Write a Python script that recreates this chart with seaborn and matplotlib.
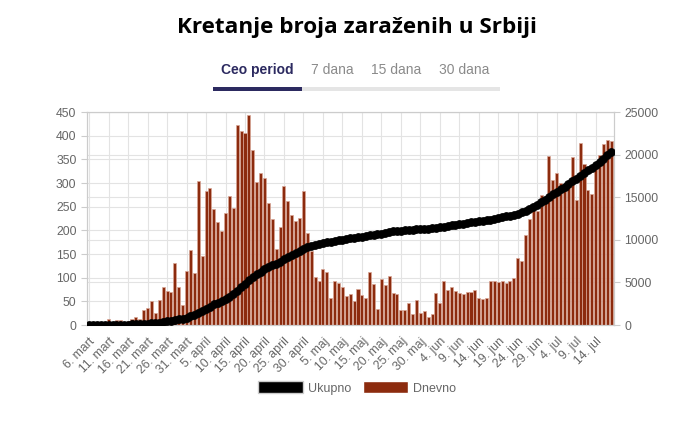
import matplotlib
matplotlib.use('Agg')
import matplotlib.pyplot as plt
from matplotlib.patches import Patch, Rectangle
import numpy as np
import pandas as pd
import seaborn as sns

# daily new cases (Dnevno), 6 March - 18 July
daily = [1, 0, 0, 0, 4, 12, 6, 10, 10, 2,
         8, 13, 16, 12, 31, 35, 50, 25, 53, 80,
         71, 70, 130, 80, 43, 114, 158, 110, 304, 146,
         283, 290, 246, 218, 199, 236, 273, 248, 422, 409,
         406, 444, 370, 303, 322, 310, 258, 223, 160, 206,
         294, 262, 232, 220, 226, 284, 194, 156, 101, 92,
         118, 113, 56, 94, 88, 80, 61, 65, 51, 77,
         63, 56, 113, 87, 33, 98, 84, 103, 67, 65,
         32, 32, 46, 24, 53, 26, 30, 17, 23, 68,
         47, 94, 73, 80, 72, 68, 65, 69, 70, 74,
         57, 55, 57, 94, 92, 91, 92, 89, 94, 100,
         141, 135, 191, 225, 243, 240, 274, 268, 357, 306,
         322, 299, 292, 296, 354, 264, 384, 341, 285, 277,
         333, 360, 382, 391, 388]

# running total (Ukupno)
total = [1, 1, 1, 1, 5, 17, 23, 33, 43, 45,
         53, 66, 82, 94, 125, 160, 210, 235, 288, 368,
         439, 509, 639, 719, 762, 876, 1034, 1144, 1448, 1594,
         1877, 2167, 2413, 2631, 2830, 3066, 3339, 3587, 4009, 4418,
         4824, 5268, 5638, 5941, 6263, 6573, 6831, 7054, 7214, 7420,
         7714, 7976, 8208, 8428, 8654, 8938, 9132, 9288, 9389, 9481,
         9599, 9712, 9768, 9862, 9950, 10030, 10091, 10156, 10207, 10284,
         10347, 10403, 10516, 10603, 10636, 10734, 10818, 10921, 10988, 11053,
         11085, 11117, 11163, 11187, 11240, 11266, 11296, 11313, 11336, 11404,
         11451, 11545, 11618, 11698, 11770, 11838, 11903, 11972, 12042, 12116,
         12173, 12228, 12285, 12379, 12471, 12562, 12654, 12743, 12837, 12937,
         13078, 13213, 13404, 13629, 13872, 14112, 14386, 14654, 15011, 15317,
         15639, 15938, 16230, 16526, 16880, 17144, 17528, 17869, 18154, 18431,
         18764, 19124, 19506, 19897, 20285]

months = {3: 'mart', 4: 'april', 5: 'maj', 6: 'jun', 7: 'jul'}
dates = pd.date_range('2020-03-06', periods=len(daily))
labels = [f'{d.day}. {months[d.month]}' for d in dates]
tabs = ['Ceo period', '7 dana', '15 dana', '30 dana']

BAR = '#8c2b0e'
GRID = '#e3e3e3'
TXT = '#666666'

sns.set_style('white')
plt.rcParams['font.family'] = ['Liberation Sans', 'DejaVu Sans']

df = pd.DataFrame({'dan': np.arange(len(daily)), 'dnevno': daily, 'ukupno': total})

fig = plt.figure(figsize=(6.85, 4.23), dpi=100)
ax = fig.add_axes([87 / 685, 1 - 325 / 423, 527 / 685, 213 / 423])

sns.barplot(data=df, x='dan', y='dnevno', ax=ax, color=BAR, saturation=1,
            width=0.78, edgecolor='#d9a797', linewidth=0.5, zorder=2)

ax2 = ax.twinx()
sns.lineplot(data=df, x='dan', y='ukupno', ax=ax2, color='black', lw=3.3,
             marker='o', markersize=5.5, markeredgecolor='black', zorder=3)

ax.set_xlim(-0.55, len(daily) - 0.3)
ax.set_ylim(0, 450)
ax2.set_ylim(0, 25000)
ax.set_yticks(range(0, 451, 50))
ax2.set_yticks(range(0, 25001, 5000))
ax.set_xticks(range(0, len(daily), 5))
ax.set_xticklabels(labels[::5])
plt.setp(ax.get_xticklabels(), rotation=45, ha='right', rotation_mode='anchor')

ax.grid(True, color=GRID, lw=0.8)
ax.set_axisbelow(True)
# right axis gridlines, kept behind the bars
for v in range(5000, 25001, 5000):
    ax.axhline(v * 450 / 25000, color=GRID, lw=0.8, zorder=0.5)
ax2.grid(False)

for a in (ax, ax2):
    a.set_xlabel('')
    a.set_ylabel('')
    a.tick_params(colors=TXT, labelsize=8.8, length=4, width=0.8)
    a.tick_params(color='#cccccc')
    for s in a.spines.values():
        s.set_color('#cccccc')
        s.set_linewidth(0.8)

fig.text(357 / 685, 1 - 28 / 423, 'Kretanje broja zaraženih u Srbiji',
         ha='center', va='center', fontsize=16.2, fontweight='bold',
         family='Open Sans', color='black')

tab_x = [257, 332, 396, 464]
for i, (t, x) in enumerate(zip(tabs, tab_x)):
    fig.text(x / 685, 1 - 70 / 423, t, ha='center', va='center', fontsize=10,
             fontweight='bold' if i == 0 else 'normal',
             color='#2c2a60' if i == 0 else '#8a8a8a')
fig.add_artist(Rectangle((302 / 685, 1 - 91 / 423), 198 / 685, 3.5 / 423,
                         transform=fig.transFigure, color='#e5e5e5', lw=0))
fig.add_artist(Rectangle((213 / 685, 1 - 91 / 423), 89 / 685, 3.5 / 423,
                         transform=fig.transFigure, color='#2c2a60', lw=0))

handles = [Patch(facecolor='black', edgecolor='#cccccc'), Patch(facecolor=BAR)]
fig.legend(handles, ['Ukupno', 'Dnevno'], loc='center',
           bbox_to_anchor=(357 / 685, 1 - 388 / 423), ncol=2, frameon=False,
           handlelength=3.6, handleheight=1.1, handletextpad=0.35,
           columnspacing=1.0, fontsize=9, labelcolor=TXT)

fig.savefig('out.png', dpi=100)
